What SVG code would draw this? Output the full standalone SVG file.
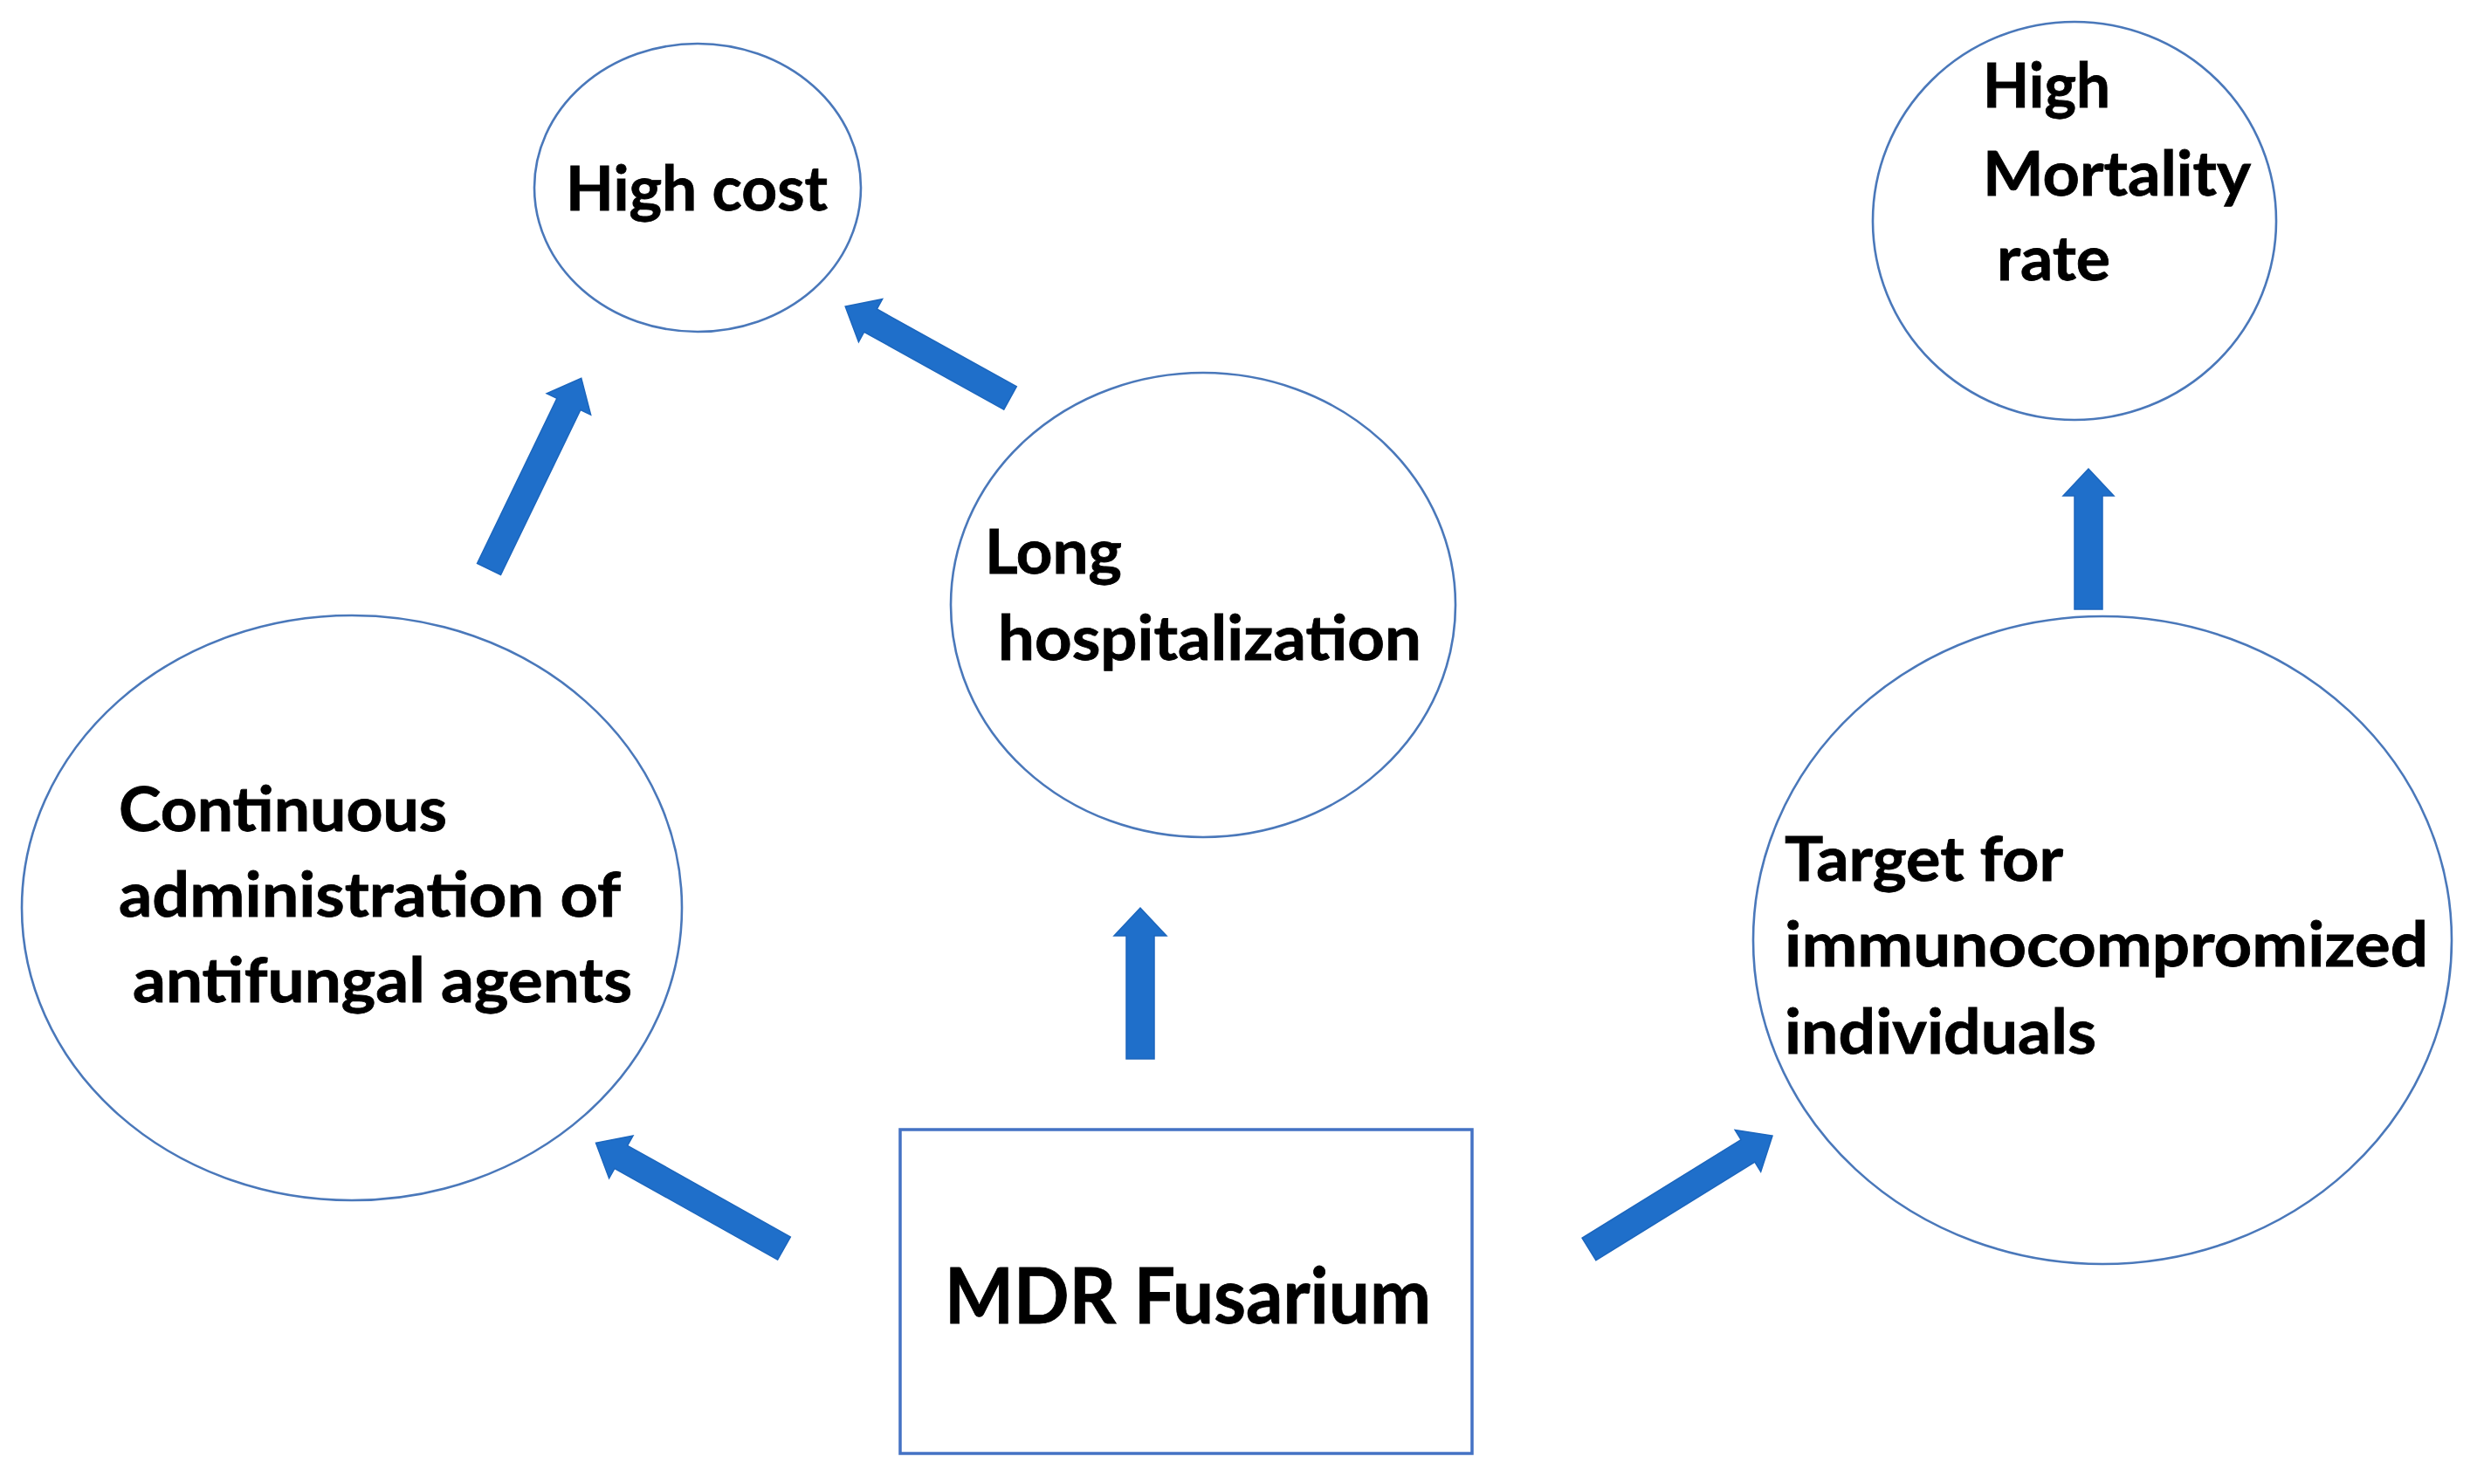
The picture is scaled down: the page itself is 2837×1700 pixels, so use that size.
<svg xmlns="http://www.w3.org/2000/svg" width="2837" height="1700" viewBox="0 0 2837 1700">
<style>
.node{fill:#ffffff;stroke:#4a78ba;stroke-width:2.6}
.box{fill:#ffffff;stroke:#4472c4;stroke-width:3.5}
.lbl{font-family:Lato,"Open Sans","Liberation Sans",sans-serif;font-weight:700;font-size:71px;fill:#000000;stroke:#000000;stroke-width:0.8}
.big{font-size:88px}
.arr{fill:#1f6fca;stroke:#1c66bd;stroke-width:1.5;stroke-linejoin:miter}
</style>
<rect x="0" y="0" width="2837" height="1700" fill="#ffffff"/>
<g id="connectors">
<polygon class="arr" transform="translate(1306,1213) rotate(-90)" points="0,-16 141,-16 141,-30 173,0 141,30 141,16 0,16"/>
<polygon class="arr" transform="translate(2392,698) rotate(-90)" points="0,-16 130,-16 130,-29 161,0 130,29 130,16 0,16"/>
<polygon class="arr" transform="translate(560,652) rotate(-64.2)" points="0,-15 210,-15 210,-28 243,0 210,28 210,15 0,15"/>
<polygon class="arr" transform="translate(1157,456) rotate(-150.95)" points="0,-15 183,-15 183,-28 216,0 183,28 183,15 0,15"/>
<polygon class="arr" transform="translate(898,1430) rotate(-150.74)" points="0,-15 214,-15 214,-28 247,0 214,28 214,15 0,15"/>
<polygon class="arr" transform="translate(1820,1431) rotate(-31.76)" points="0,-15 214,-15 214,-28 247,0 214,28 214,15 0,15"/>
</g>
<g id="high-cost">
<ellipse class="node" cx="799" cy="215" rx="187" ry="165"/>
<text class="lbl" x="648" y="241" textLength="300" lengthAdjust="spacingAndGlyphs">High cost</text>
</g>
<g id="high-mortality">
<ellipse class="node" cx="2376" cy="253" rx="231" ry="228"/>
<text class="lbl" x="2271" y="123" textLength="146" lengthAdjust="spacingAndGlyphs">High</text>
<text class="lbl" x="2271" y="224" textLength="307" lengthAdjust="spacingAndGlyphs">Mortality</text>
<text class="lbl" x="2287" y="321" textLength="130" lengthAdjust="spacingAndGlyphs">rate</text>
</g>
<g id="long-hospitalization">
<ellipse class="node" cx="1378" cy="693" rx="289" ry="266"/>
<text class="lbl" x="1128" y="657" textLength="157" lengthAdjust="spacingAndGlyphs">Long</text>
<text class="lbl" x="1143" y="756" textLength="485" lengthAdjust="spacingAndGlyphs">hospitalization</text>
</g>
<g id="continuous-administration">
<ellipse class="node" cx="403" cy="1040" rx="378" ry="335"/>
<text class="lbl" x="136" y="952" textLength="376" lengthAdjust="spacingAndGlyphs">Continuous</text>
<text class="lbl" x="136" y="1050" textLength="575" lengthAdjust="spacingAndGlyphs">administration of</text>
<text class="lbl" x="152" y="1148" textLength="572" lengthAdjust="spacingAndGlyphs">antifungal agents</text>
</g>
<g id="target-immunocompromized">
<ellipse class="node" cx="2408" cy="1077" rx="400" ry="371"/>
<text class="lbl" x="2044" y="1009" textLength="319" lengthAdjust="spacingAndGlyphs">Target for</text>
<text class="lbl" x="2044" y="1107" textLength="737" lengthAdjust="spacingAndGlyphs">immunocompromized</text>
<text class="lbl" x="2044" y="1207" textLength="357" lengthAdjust="spacingAndGlyphs">individuals</text>
</g>
<g id="mdr-fusarium">
<rect class="box" x="1031" y="1294" width="655" height="371"/>
<text class="lbl big" x="1082" y="1516" textLength="557" lengthAdjust="spacingAndGlyphs">MDR Fusarium</text>
</g>
</svg>
